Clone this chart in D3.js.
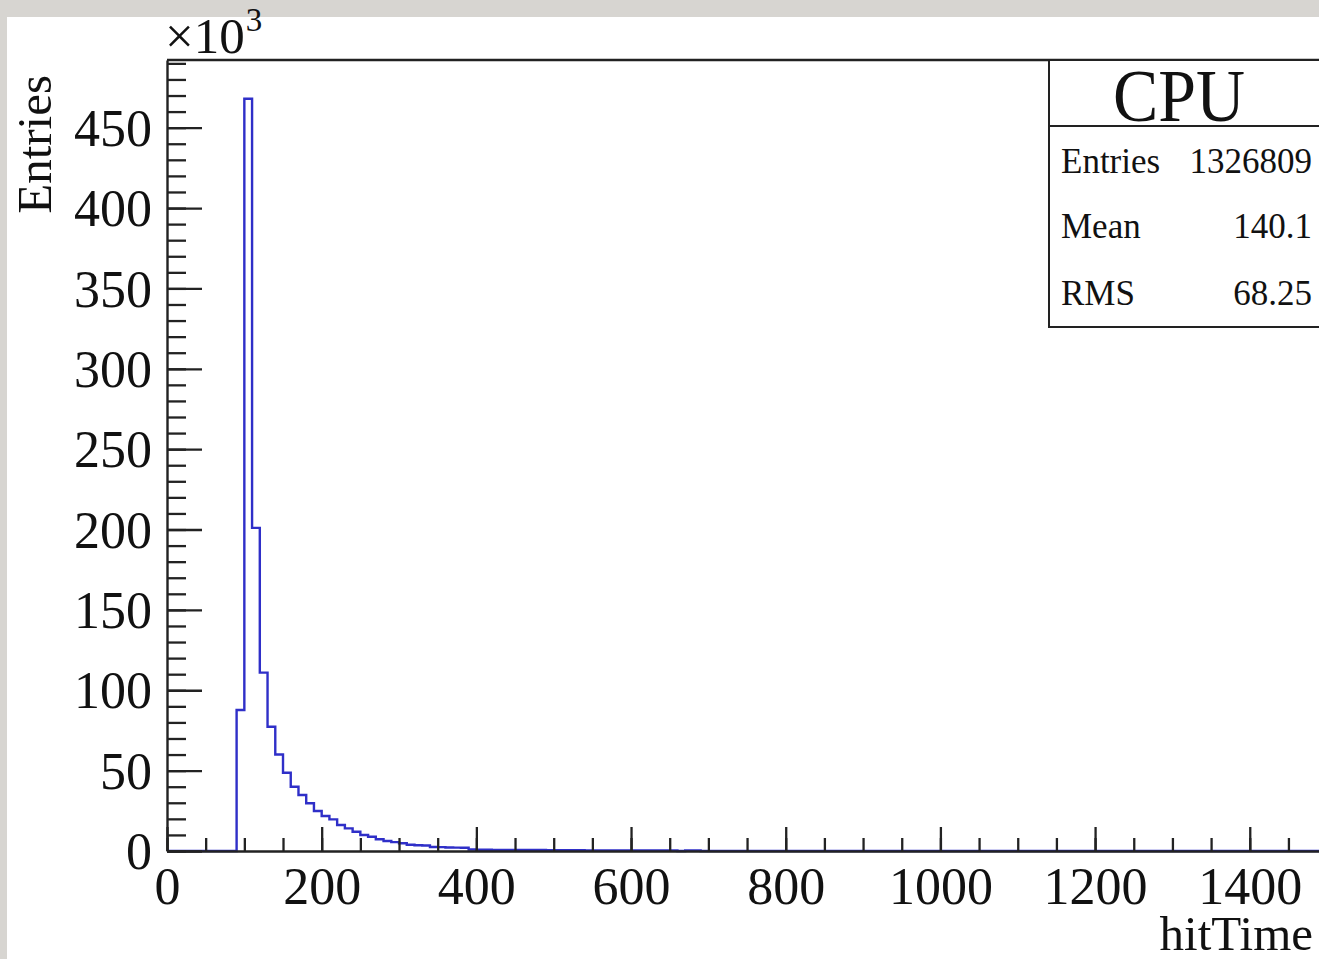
<!DOCTYPE html>
<html>
<head>
<meta charset="utf-8">
<script src="https://cdn.jsdelivr.net/npm/d3@7"></script>
<style>
  body { margin: 0; background: #d7d5d1; }
  svg { display: block; }
  text { font-family: "Liberation Serif", "Times New Roman", serif; fill: #111; }
</style>
</head>
<body>
<svg width="1319" height="959"></svg>
<script>
// histogram bins (lower edge, width 10) and entries in units of 10^3
var binLow = [90,100,110,120,130,140,150,160,170,180,190,200,210,220,230,240,250,260,270,280,
              290,300,310,320,330,340,350,360,370,380,390,400,410,420,430,440,450,460,470,480,
              490,500,510,520,530,540,550,560,570,580,590,600,610,620,630,640,650,660,670,680];
var entriesK = [87.7,468,201,111,77.3,60,48.7,40,34.8,29.7,24.9,21.8,19.7,16.2,14.1,12.0,10.0,8.9,7.3,6.2,
                5.5,4.8,3.9,3.6,3.4,2.5,2.4,2.2,2.1,2.0,0.9,0.8,0.8,0.7,0.7,0.7,0.6,0.6,0.6,0.6,
                0.5,0.5,0.5,0.5,0.5,0.4,0.4,0.4,0.4,0.4,0.4,0.4,0.3,0.3,0.3,0.3,0.3,0,0.3,0.3];
var histEnd = 690;

var xTicks = [0,200,400,600,800,1000,1200,1400];
var yTicks = [0,50,100,150,200,250,300,350,400,450];
var statLabels = ["Entries", "Mean", "RMS"];
var statValues = ["1326809", "140.1", "68.25"];

var svg = d3.select("svg");

svg.append("rect")
   .attr("x", 7).attr("y", 17)
   .attr("width", 1312).attr("height", 942)
   .attr("fill", "white");

var padL = 167, padT = 60, padB = 851;

var x = d3.scaleLinear().domain([0, 1500]).range([padL, padL + 1500 * 0.7734]);
var y = d3.scaleLinear().domain([0, 492.1]).range([padB, padT]);

// histogram outline
var pts = [[0, 0]];
binLow.forEach(function (b, i) { pts.push([b, entriesK[i]]); });
pts.push([histEnd, 0]);
pts.push([1500, 0]);

var line = d3.line()
    .x(function (d) { return x(d[0]); })
    .y(function (d) { return y(d[1]); })
    .curve(d3.curveStepAfter);

svg.append("path")
   .attr("d", line(pts))
   .attr("fill", "none")
   .attr("stroke", "#2f2fc8")
   .attr("stroke-width", 2.4);

// frame top line
svg.append("line")
   .attr("x1", padL).attr("x2", 1319)
   .attr("y1", padT).attr("y2", padT)
   .attr("stroke", "#222").attr("stroke-width", 2.4);

// x axis: minor then major ticks, pointing inward
var xMinor = d3.range(0, 1501, 50);
svg.append("g")
   .attr("transform", "translate(0," + padB + ")")
   .call(d3.axisBottom(x).tickValues(xMinor).tickSize(-13).tickFormat(""))
   .call(function (g) { g.select(".domain").remove(); });

var gx = svg.append("g")
   .attr("transform", "translate(0," + padB + ")")
   .call(d3.axisBottom(x).tickValues(xTicks).tickSizeInner(-24).tickSizeOuter(0).tickPadding(53)
         .tickFormat(d3.format("d")));
gx.selectAll("text").attr("font-size", 52).attr("dy", 0).attr("fill", "#111");

// y axis
var yMinor = d3.range(0, 492, 10);
svg.append("g")
   .attr("transform", "translate(" + padL + ",0)")
   .call(d3.axisLeft(y).tickValues(yMinor).tickSize(-19).tickFormat(""))
   .call(function (g) { g.select(".domain").remove(); });

var gy = svg.append("g")
   .attr("transform", "translate(" + padL + ",0)")
   .call(d3.axisLeft(y).tickValues(yTicks).tickSizeInner(-35).tickSizeOuter(0).tickPadding(15)
         .tickFormat(d3.format("d")));
gy.selectAll("text").attr("font-size", 52).attr("dy", "0.34em").attr("fill", "#111");

svg.selectAll(".tick line").attr("stroke", "#222").attr("stroke-width", 2.3);
svg.selectAll(".domain").attr("stroke", "#222").attr("stroke-width", 2.4);
svg.selectAll(".tick text").style("font-family", "'Liberation Serif', serif");

// exponent label
var ex = svg.append("text").attr("x", 165).attr("y", 53).attr("font-size", 51);
ex.append("tspan").text("\u00d710");
ex.append("tspan").attr("font-size", 33).attr("dy", -22).attr("dx", 1).text("3");

// axis titles
svg.append("text")
   .attr("transform", "translate(51,75) rotate(-90)")
   .attr("text-anchor", "end")
   .attr("font-size", 49)
   .text("Entries");

svg.append("text")
   .attr("x", 1313).attr("y", 950)
   .attr("text-anchor", "end")
   .attr("font-size", 49)
   .text("hitTime");

// stats box
var box = svg.append("g");
box.append("rect")
   .attr("x", 1049).attr("y", padT)
   .attr("width", 300).attr("height", 327 - padT)
   .attr("fill", "white").attr("stroke", "#222").attr("stroke-width", 2);
box.append("line")
   .attr("x1", 1049).attr("x2", 1319)
   .attr("y1", 126).attr("y2", 126)
   .attr("stroke", "#222").attr("stroke-width", 2);
box.append("text")
   .attr("x", 1113).attr("y", 121)
   .attr("font-size", 74)
   .attr("textLength", 132).attr("lengthAdjust", "spacingAndGlyphs")
   .text("CPU");

var rowY = [173, 238, 305];
statLabels.forEach(function (s, i) {
  box.append("text").attr("x", 1061).attr("y", rowY[i]).attr("font-size", 35).text(s);
  box.append("text").attr("x", 1312).attr("y", rowY[i]).attr("font-size", 35)
     .attr("text-anchor", "end").text(statValues[i]);
});
</script>
</body>
</html>
